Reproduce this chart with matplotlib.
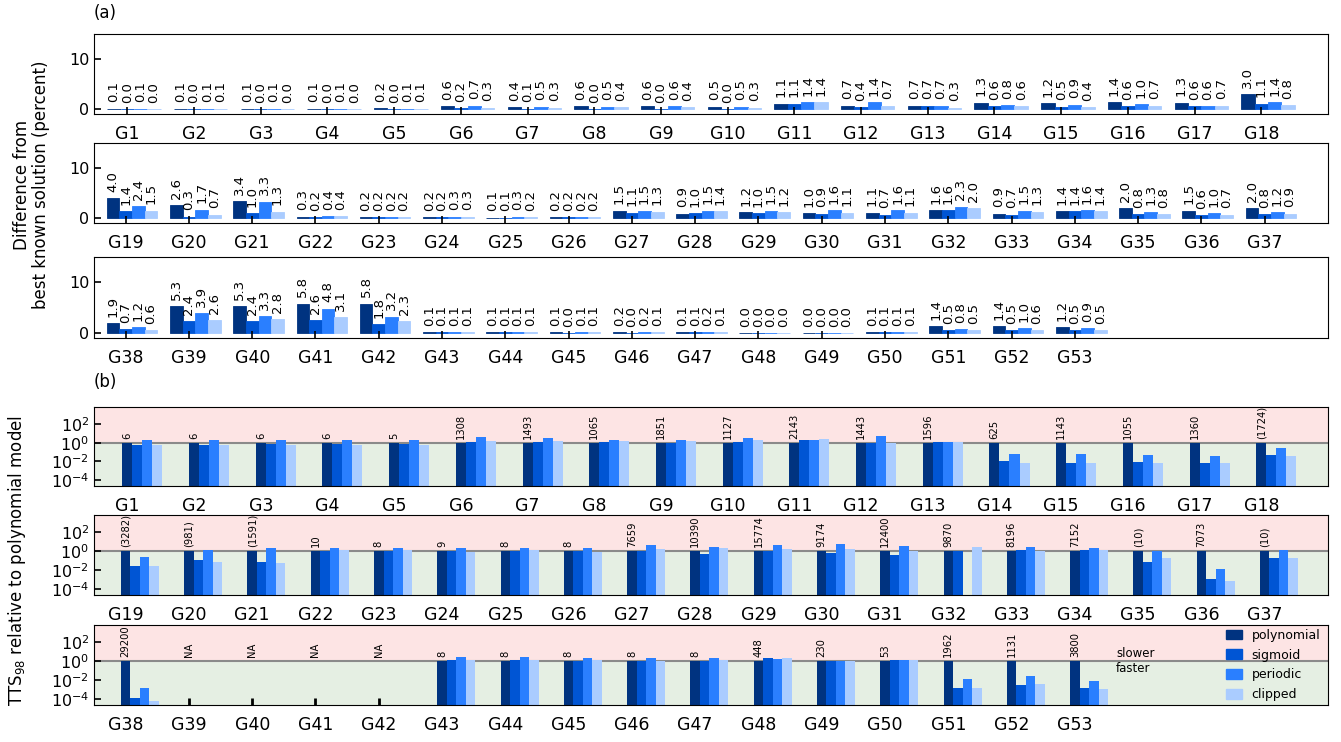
import numpy as np
import matplotlib
matplotlib.use("Agg")
import matplotlib.pyplot as plt
from matplotlib.patches import Patch

nan = np.nan
names = [f"G{i}" for i in range(1, 54)]
series = ["polynomial", "sigmoid", "periodic", "clipped"]
colors = ["#003380", "#0055d4", "#2a7fff", "#aaccff"]

# Panel (a): difference from best known solution (percent)
diff_poly = [0.1,0.1,0.1,0.1,0.2,0.6,0.4,0.6,0.6,0.5,1.1,0.7,0.7,1.3,1.2,1.4,1.3,3.0,
             4.0,2.6,3.4,0.3,0.2,0.2,0.1,0.2,1.5,0.9,1.2,1.0,1.1,1.6,0.9,1.4,2.0,1.5,2.0,
             1.9,5.3,5.3,5.8,5.8,0.1,0.1,0.1,0.2,0.1,0.0,0.0,0.1,1.4,1.4,1.2]
diff_sig = [0.0,0.0,0.0,0.0,0.0,0.2,0.1,0.0,0.0,0.0,1.1,0.4,0.7,0.6,0.5,0.6,0.6,1.1,
            1.4,0.3,1.0,0.2,0.2,0.2,0.1,0.2,1.1,1.0,1.0,0.9,0.7,1.6,0.7,1.4,0.8,0.6,0.8,
            0.7,2.4,2.4,2.6,1.8,0.1,0.1,0.0,0.0,0.1,0.0,0.0,0.1,0.5,0.5,0.5]
diff_per = [0.1,0.1,0.1,0.1,0.1,0.7,0.5,0.5,0.6,0.5,1.4,1.4,0.7,0.8,0.9,1.0,0.6,1.4,
            2.4,1.7,3.3,0.4,0.2,0.3,0.3,0.2,1.5,1.5,1.5,1.6,1.6,2.3,1.5,1.6,1.3,1.0,1.2,
            1.2,3.9,3.3,4.8,3.2,0.1,0.1,0.1,0.2,0.2,0.0,0.0,0.1,0.8,1.0,0.9]
diff_clip = [0.0,0.1,0.0,0.0,0.1,0.3,0.3,0.4,0.4,0.3,1.4,0.7,0.3,0.6,0.4,0.7,0.7,0.8,
             1.5,0.7,1.3,0.4,0.2,0.3,0.2,0.2,1.3,1.4,1.2,1.1,1.1,2.0,1.3,1.4,0.8,0.7,0.9,
             0.6,2.6,2.8,3.1,2.3,0.1,0.1,0.1,0.1,0.1,0.0,0.0,0.1,0.5,0.6,0.5]

# Panel (b): TTS98 relative to polynomial model
tts_poly = [1]*38 + [nan]*4 + [1]*11
tts_sig = [0.6,0.6,0.8,0.8,0.8,1.3,1.3,1.3,1.0,1.3,2.1,1.0,1.3,0.012,0.0074,0.009,0.0074,0.053,
           0.027,0.12,0.072,1.0,1.0,1.0,1.0,1.0,1.0,0.5,1.0,0.6,0.4,1.0,1.4,1.4,0.07,0.0012,0.2,
           1.2e-4,nan,nan,nan,nan,1.2,1.2,1.1,1.1,1.1,2.0,1.0,1.5,0.0015,0.003,0.0013]
tts_per = [2.1,2.1,2.1,2.1,2.1,4.4,3.4,2.1,2.1,3.4,2.1,5.5,1.3,0.068,0.068,0.053,0.038,0.29,
           0.25,1.4,2.3,2.3,2.3,2.3,2.3,2.3,4.8,2.5,4.5,5.5,3.2,nan,2.5,2.0,1.0,0.012,1.2,
           0.0015,nan,nan,nan,nan,2.5,2.8,2.3,2.3,2.4,1.7,1.0,1.5,0.012,0.025,0.008]
tts_clip = [0.6,0.6,0.6,0.6,0.6,1.6,1.6,1.6,1.6,2.1,2.7,1.0,1.1,0.0074,0.006,0.0074,0.006,0.038,
            0.027,0.072,0.056,1.3,1.3,0.85,1.3,0.85,1.9,2.0,1.6,1.8,1.0,3.0,1.0,1.5,0.2,0.0007,0.18,
            6e-5,nan,nan,nan,nan,1.5,1.5,1.3,1.1,1.3,2.0,1.0,1.5,0.0015,0.004,0.001]
tts_labels = ["6","6","6","6","5","1308","1493","1065","1851","1127","2143","1443","1596",
              "625","1143","1055","1360","(1724)",
              "(3282)","(981)","(1591)","10","8","9","8","8","7659","10390","15774","9174",
              "12400","9870","8196","7152","(10)","7073","(10)",
              "29200","NA","NA","NA","NA","8","8","8","8","8","448","230","53","1962","1131","3800"]

rows = [(0, 18), (18, 37), (37, 53)]
row_xmax = [18, 19, 19]

W, H = 1341, 742
fig = plt.figure(figsize=(W/100, H/100), dpi=100)
left = 94/W
width = 1234/W
a_rows = [(34, 114), (143, 223), (257, 338)]
b_rows = [(407, 486), (515, 595), (625, 705)]

def mkax(top, bot):
    return fig.add_axes([left, 1 - bot/H, width, (bot - top)/H])

diffs = [diff_poly, diff_sig, diff_per, diff_clip]
for r, ((s, e), (top, bot)) in enumerate(zip(rows, a_rows)):
    ax = mkax(top, bot)
    x = np.arange(e - s)
    for j in range(4):
        vals = np.array(diffs[j][s:e])
        xs = x + (j - 1) * 0.2
        ax.bar(xs, vals, width=0.2, color=colors[j], edgecolor=colors[j], linewidth=0.6)
        for xi, v in zip(xs, vals):
            ax.annotate(f"{v:.1f}", (xi, v), xytext=(0, 4.5), textcoords="offset points",
                        rotation=90, ha="center", va="bottom", fontsize=9.5)
    ax.set_xlim(-0.5, row_xmax[r])
    ax.set_ylim(-1, 15)
    ax.set_yticks([0, 10])
    ax.set_xticks(x)
    ax.set_xticklabels(names[s:e])
    ax.tick_params(direction="in", length=5, width=1.2)
    ax.tick_params(axis="x", labelsize=12.5, pad=8)
    ax.tick_params(axis="y", labelsize=11.5)

ratios = [tts_poly, tts_sig, tts_per, tts_clip]
for r, ((s, e), (top, bot)) in enumerate(zip(rows, b_rows)):
    ax = mkax(top, bot)
    ax.set_yscale("log")
    ylo, yhi = 2.2e-5, 7e3
    ax.axhspan(1, yhi, color="#fde4e4", zorder=0, lw=0)
    ax.axhspan(ylo, 1, color="#e5efe3", zorder=0, lw=0)
    ax.axhline(1, color="#8a8a8a", lw=1.5, zorder=1)
    x = np.arange(e - s)
    for j in range(4):
        vals = np.array(ratios[j][s:e], dtype=float)
        ok = ~np.isnan(vals)
        ax.bar((x + j * 0.15)[ok], vals[ok], width=0.15, bottom=1e-9,
               color=colors[j], zorder=2)
    for xi, lab in zip(x, tts_labels[s:e]):
        ax.annotate(lab, (xi, 1), xytext=(0, 3), textcoords="offset points",
                    rotation=90, ha="center", va="bottom", fontsize=7.2)
    ax.set_xlim(-0.5, row_xmax[r])
    ax.set_ylim(ylo, yhi)
    ax.set_yticks([1e-4, 1e-2, 1, 1e2])
    ax.minorticks_off()
    ax.set_xticks(x)
    ax.set_xticklabels(names[s:e])
    ax.tick_params(direction="in", length=5, width=1.2)
    ax.tick_params(axis="x", labelsize=12.5, pad=8, width=2)
    ax.tick_params(axis="y", labelsize=11.5)
    if r == 2:
        ax.text(15.65, 1.3, "slower", fontsize=8.5, ha="left", va="bottom")
        ax.text(15.65, 0.75, "faster", fontsize=8.5, ha="left", va="top")
        handles = [Patch(color=c, label=l) for c, l in zip(colors, series)]
        ax.legend(handles=handles, loc="center right", frameon=False, fontsize=9,
                  handlelength=1.3, handleheight=0.8, labelspacing=0.55,
                  borderaxespad=0.2)

fig.text(94/W, 1 - 13/H, "(a)", fontsize=12, ha="left", va="center")
fig.text(94/W, 1 - 382/H, "(b)", fontsize=12, ha="left", va="center")
fig.text(0.0235, 1 - 185/H, "Difference from\nbest known solution (percent)",
         rotation=90, ha="center", va="center", fontsize=12, multialignment="center",
         linespacing=1.1)
fig.text(0.013, 1 - 560/H, "TTS$_{98}$ relative to polynomial model",
         rotation=90, ha="center", va="center", fontsize=12)

fig.savefig("out.png", dpi=100)
